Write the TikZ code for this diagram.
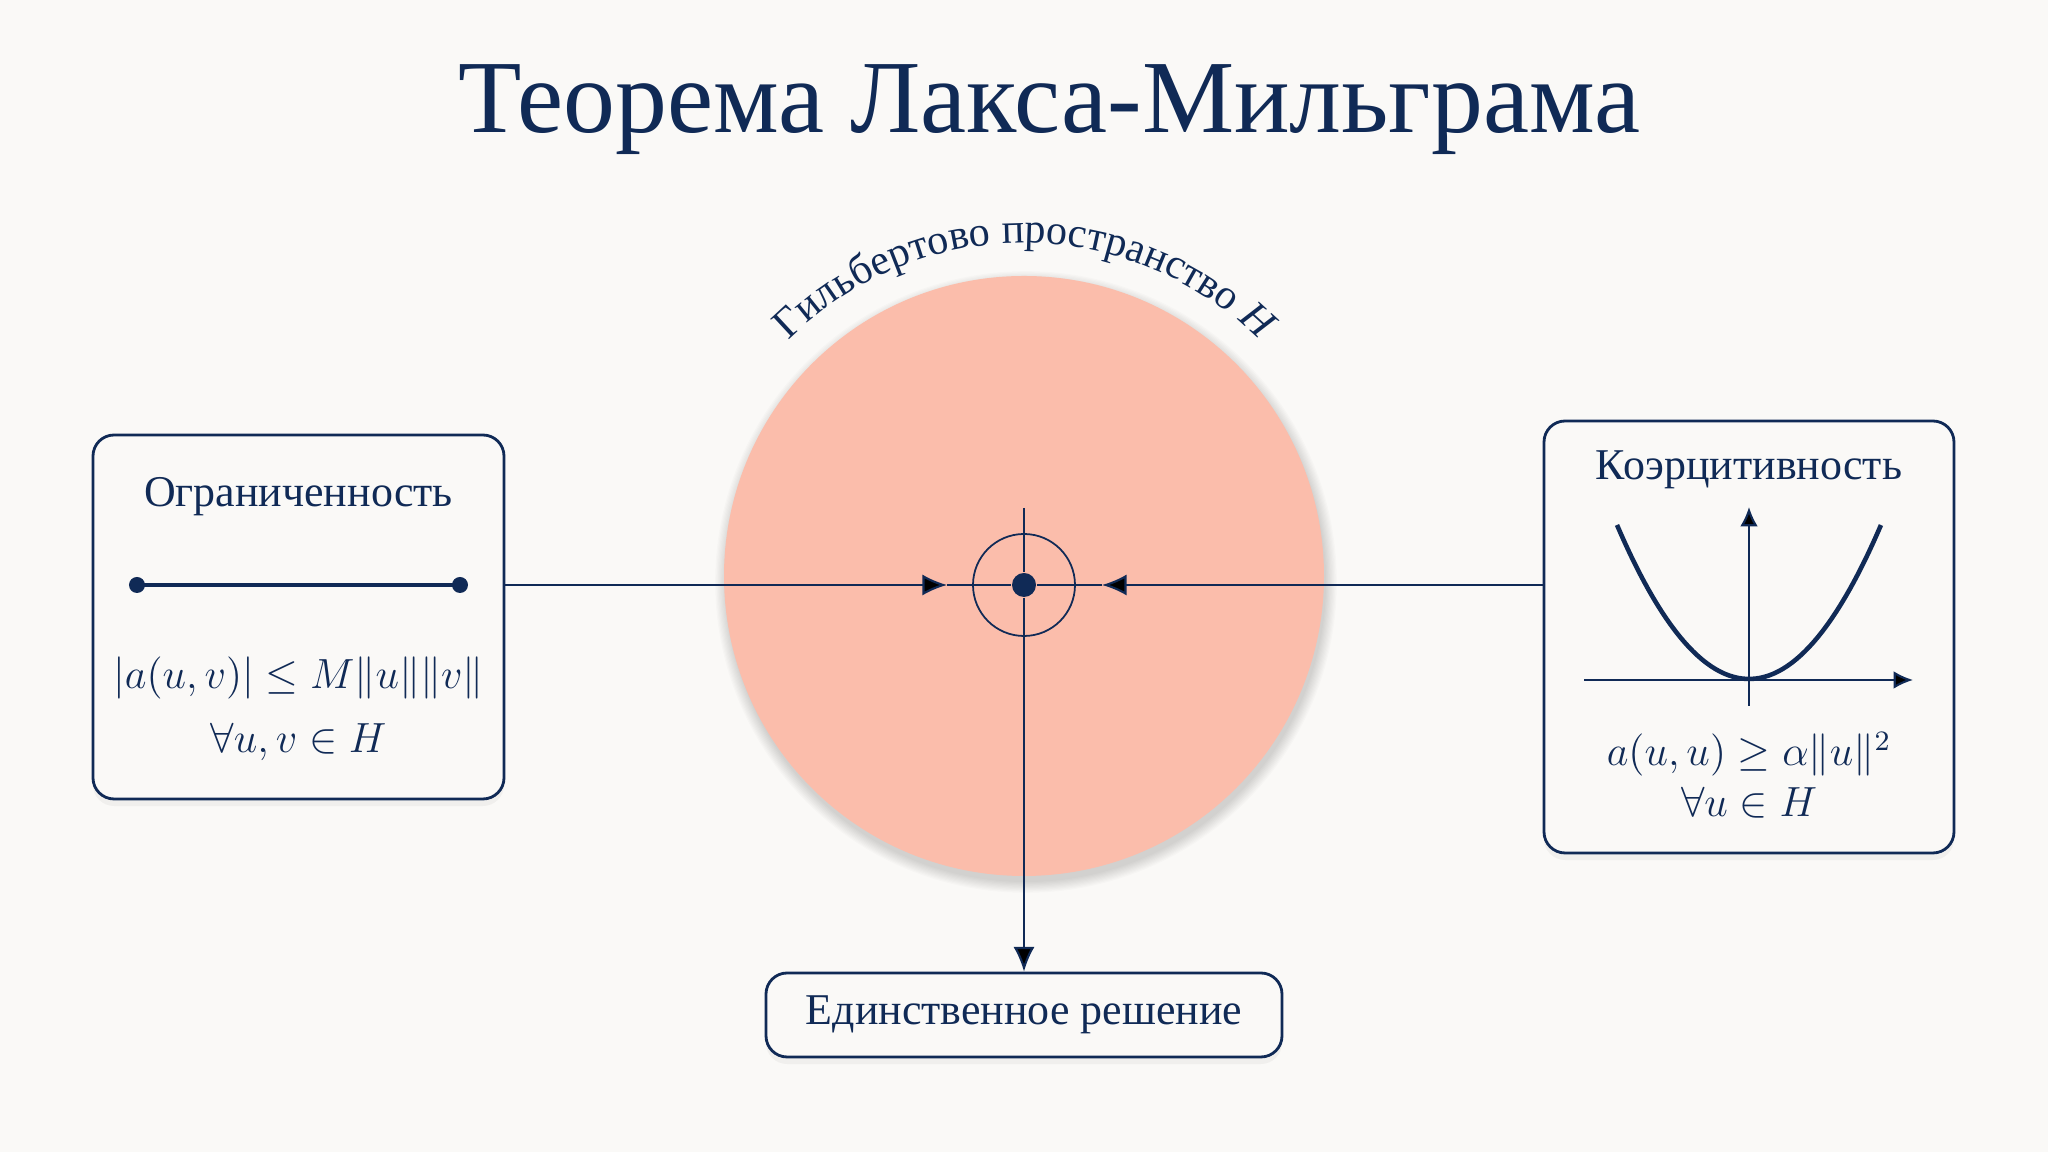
\documentclass[tikz,border=0pt]{standalone}
\usepackage[no-math]{fontspec}
\setmainfont{Liberation Serif}
\usepackage{tikz}
\usetikzlibrary{arrows.meta,decorations.text,shadows}
\tikzset{>={Latex[length=7pt,width=6pt]}}

\definecolor{ink}{HTML}{102A56}
\definecolor{paper}{HTML}{FAF9F7}
\definecolor{salmon}{HTML}{FBBDAB}

\tikzset{
  card/.style={draw=ink, line width=0.8pt, fill=paper, rounded corners=6pt,
    drop shadow={shadow xshift=0pt, shadow yshift=-2pt, opacity=0.08}},
  cardtitle/.style={text=ink, font=\fontsize{12.5}{15}\selectfont, inner sep=0pt},
  formula/.style={text=ink, font=\fontsize{11.7}{14}\selectfont, inner sep=0pt},
  wire/.style={draw=ink, line width=0.6pt},
  curve/.style={draw=ink, line width=1.3pt}
}

\begin{document}
\begin{tikzpicture}[]
  % canvas
  \def\W{20.48} % width of picture
  \def\H{11.52} % height of picture
  \fill[paper] (0,0) rectangle (\W,\H);
  \useasboundingbox (0,0) rectangle (\W,\H);

  % title
  \node[text=ink, font=\fontsize{29.5}{34}\selectfont] (title) at (10.49,10.42) {Теорема Лакса-Мильграма};

  % Hilbert space
  \def\R{3.0}   % radius of disc
  \def\Rt{3.33} % radius of text arc
  % soft shadow
  \foreach \i in {0,...,9}
    \fill[black, opacity=0.014] (10.26,5.70) circle[radius=\R+0.012*\i];
  \node[circle, fill=salmon, minimum size=2*\R cm, inner sep=0pt] (hilb) at (10.24,5.76) {};
  \path[decorate, decoration={text along path, text align=center, text color=ink,
        text={|\fontsize{12}{15}\selectfont|Гильбертово пространство |\fontsize{12}{15}\selectfont\itshape|H}}]
        (hilb.center) ++(160:\Rt) arc[start angle=160, end angle=20, radius=\Rt];

  % boxes
  \node[card, minimum width=4.11cm, minimum height=3.64cm] (bound) at (2.985,5.35) {};
  \node[card, minimum width=4.10cm, minimum height=4.32cm] (coerc) at (17.49,5.15) {};
  \node[card, minimum width=5.16cm, minimum height=0.84cm, cardtitle, inner sep=0pt] (sol) at (10.24,1.37) {Единственное решение};

  % boundedness
  \node[cardtitle] (boundTitle) at (2.985,6.55) {Ограниченность};
  \draw[curve] (1.37,5.67) -- (4.60,5.67);
  \foreach \x in {1.37,4.60}
    \fill[ink] (\x,5.67) circle[radius=0.08];
  \node[formula] (boundIneq) at (2.985,4.74) {$|a(u,v)| \le M\|u\|\|v\|$};
  \node[formula] (boundAll) at (2.985,4.10) {$\forall u,v \in H$};

  % coercivity
  \node[cardtitle] (coercTitle) at (17.49,6.82) {Коэрцитивность};
  \draw[wire, -{Latex[length=5.5pt,width=5pt]}] (15.84,4.72) -- (19.13,4.72);
  \draw[wire, -{Latex[length=5.5pt,width=5pt]}] (17.49,4.46) -- (17.49,6.45);
  \draw[curve] plot[domain=-1.32:1.32, samples=60] ({17.49+\x},{4.73+0.884*\x*\x});
  \node[formula] (coercIneq) at (17.49,3.98) {$a(u,u) \ge \alpha\|u\|^2$};
  \node[formula] (coercAll) at (17.49,3.49) {$\forall u \in H$};

  % centre point
  \node[circle, fill=ink, minimum size=0.24cm, inner sep=0pt] (dot) at (10.24,5.67) {};
  \draw[ink, line width=0.5pt] (dot) circle[radius=0.51];
  \coordinate (tipL) at (9.47,5.67);
  \coordinate (tipR) at (11.02,5.67);
  \coordinate (top) at (10.24,6.44);

  % connectors
  \draw[wire, ->] (bound.east |- dot) -- (tipL);
  \draw[wire] (tipL) -- (dot);
  \draw[wire, ->] (coerc.west |- dot) -- (tipR);
  \draw[wire] (tipR) -- (dot);
  \draw[wire] (top) -- (dot);
  \draw[wire, ->] (dot) -- (sol.north);
\end{tikzpicture}
\end{document}
